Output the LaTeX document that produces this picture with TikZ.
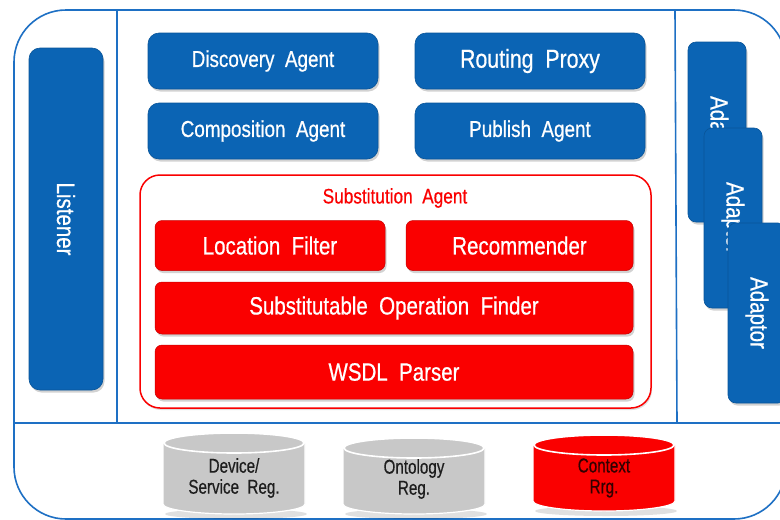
\documentclass[tikz,border=0pt]{standalone}
\usepackage{fontspec}
\setmainfont{Liberation Sans}[FakeStretch=0.82,WordSpace=2,FakeBold=0.6]
\newfontfamily\cylfont{Liberation Sans}[FakeStretch=0.76,WordSpace=2,FakeBold=0.5]
\usetikzlibrary{shadows}
\definecolor{myblue}{RGB}{11,100,180}
\definecolor{frameblue}{RGB}{30,112,196}
\definecolor{myred}{RGB}{250,0,0}
\definecolor{cylgray}{RGB}{200,200,200}
\definecolor{cyltxt}{RGB}{30,30,30}
\newcommand\mycyl[4]{%
  \fill[black,opacity=0.12] (#1+2,#3) ellipse[x radius=71, y radius=5];
  \path[fill=#4, draw=white, line width=1.2pt]
    (#1-71,#2+10) -- (#1-71,#3-10) arc[start angle=180, end angle=0, x radius=71, y radius=10]
    -- (#1+71,#2+10) -- cycle;
  \path[fill=#4, draw=white, line width=1.6pt] (#1,#2+10) ellipse[x radius=70, y radius=10];
}
\begin{document}
\begin{tikzpicture}[x=1pt,y=-1pt,
  shad/.style={drop shadow={shadow xshift=1.5pt, shadow yshift=-2.5pt, opacity=0.35}},
  bluebox/.style={rounded corners=11pt, fill=myblue, draw=myblue!85!black, line width=0.6pt, inner sep=0pt, shad},
  redbox/.style={rounded corners=7pt, fill=myred, draw=myred!80!black, line width=0.5pt, text=white, inner sep=0pt, shad,
     font=\fontsize{25}{28}\selectfont},
  bluetext/.style={text=white, font=\fontsize{23}{26}\selectfont},
  vtext/.style={text=white, rotate=-90, font=\fontsize{25}{28}\selectfont},
  cyltext/.style={align=center, font=\cylfont\fontsize{20}{21}\selectfont, text=cyltxt},
  frameline/.style={draw=frameblue, line width=1.6pt}
]
\useasboundingbox (0,0) rectangle (780,520);
\clip (0,0) rectangle (780,520);
\fill[white] (0,0) rectangle (780,520);

% frame
\draw[frameline, rounded corners=52pt] (14,10) rectangle (786,519);
\coordinate (v1t) at (117,10); \coordinate (v1b) at (117,423);
\coordinate (v2t) at (675,10); \coordinate (v2b) at (677,423);
\coordinate (hl) at (14,423); \coordinate (hr) at (786,423);
\draw[frameline] (v1t) -- (v1b);
\draw[frameline] (v2t) -- (v2b);
\draw[frameline] (hl) -- (hr);

% listener
\node[bluebox, minimum width=74pt, minimum height=342pt] (listener) at (66,219) {};
\node[vtext] (listenerT) at (listener.center) {Listener};

% blue agents
\node[bluebox, bluetext, minimum width=230pt, minimum height=56pt] (disc) at (263,61) {Discovery Agent};
\node[bluebox, bluetext, font=\fontsize{26}{28}\selectfont, minimum width=230pt, minimum height=56pt] (route) at (530,61) {Routing Proxy};
\node[bluebox, bluetext, minimum width=230pt, minimum height=56pt] (comp) at (263,131) {Composition Agent};
\node[bluebox, bluetext, minimum width=230pt, minimum height=56pt] (pub) at (530,131) {Publish Agent};

% substitution agent
\node[rounded corners=20pt, draw=myred, line width=1.5pt, fill=white,
      drop shadow={shadow xshift=1pt, shadow yshift=-2pt, opacity=0.25},
      minimum width=511pt, minimum height=233pt] (subst) at (395.5,291.5) {};
\node[text=myred, font=\fontsize{21}{24}\selectfont] (substT) at (395,198) {Substitution Agent};
\node[redbox, minimum width=230pt, minimum height=50pt] (loc) at (270,245.5) {Location Filter};
\node[redbox, minimum width=227pt, minimum height=50pt] (rec) at (519.5,245.5) {Recommender};
\node[redbox, minimum width=478pt, minimum height=52pt] (sof) at (394,308) {Substitutable Operation Finder};
\node[redbox, minimum width=478pt, minimum height=54pt] (wsdl) at (394,372) {WSDL Parser};

% adaptors
\node[bluebox, rounded corners=8pt, minimum width=58pt, minimum height=180pt] (ad1) at (717,132) {};
\node[vtext] (ad1T) at (ad1.center) {Adaptor};
\node[bluebox, rounded corners=8pt, minimum width=58pt, minimum height=180pt] (ad2) at (733,218) {};
\node[vtext] (ad2T) at (ad2.center) {Adaptor};
\node[bluebox, rounded corners=8pt, minimum width=58pt, minimum height=180pt] (ad3) at (757,313) {};
\node[vtext] (ad3T) at (ad3.center) {Adaptor};

% registries
\mycyl{234}{433}{514}{cylgray}
\node[cyltext] (dev) at (234,478) {Device/\\Service Reg.};
\mycyl{414}{438}{514}{cylgray}
\node[cyltext] (onto) at (414,479) {Ontology\\Reg.};
\mycyl{604}{435}{511}{myred}
\node[cyltext, text={rgb,255:red,50;green,0;blue,0}] (ctx) at (604,478) {Context\\Rrg.};
\end{tikzpicture}
\end{document}
